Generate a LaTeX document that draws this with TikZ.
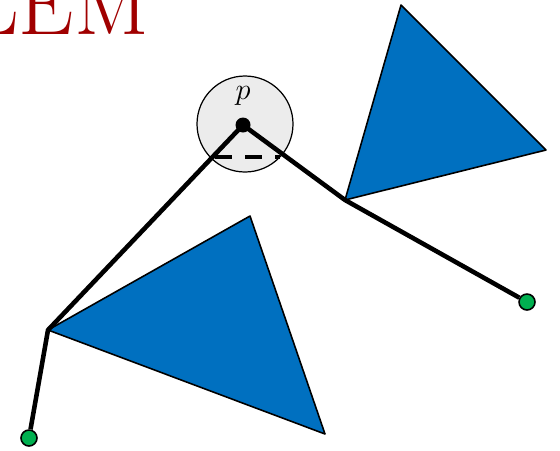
\documentclass[tikz,border=0pt]{standalone}
\usepackage{tikz}
\usetikzlibrary{calc}
\definecolor{triblue}{RGB}{0,112,192}
\definecolor{endgreen}{RGB}{0,176,80}
\definecolor{titlered}{RGB}{160,0,0}
\tikzset{tri/.style={draw=black,line width=0.9pt,fill=triblue,line join=round},
  arm/.style={line width=2.6pt,line join=round},
  enddot/.style={circle,draw=black,line width=0.9pt,fill=endgreen,inner sep=0pt,minimum size=16\px},
  jointdot/.style={circle,fill=black,inner sep=0pt,minimum size=15\px}}
\newlength{\px}\setlength{\px}{0.02cm}

\begin{document}
\begin{tikzpicture}[x=0.02cm,y=-0.02cm,line cap=butt]
\useasboundingbox (0,0) rectangle (560,450);
\clip (0,0) rectangle (560,450);
% --- title, cut off at the border
\node[anchor=base east,inner sep=0pt,text=titlered,font=\fontsize{50}{56}\selectfont] (title) at (149,34) {PROBLEM};
% --- joints
\coordinate (p) at (243,125);
\coordinate (l) at (48,330);
\coordinate (r) at (345,200);
% --- neighbourhood of p
\draw[line width=0.7pt,fill=gray!15] (245,124) circle (48);
\draw[line width=2.4pt,dash pattern=on 17\px off 13\px] (215,157) -- (280,157);
% --- obstacles
\draw[tri] (l) -- (250,216) -- (325,434) -- cycle;
\draw[tri] (r) -- (401,5) -- (546,150) -- cycle;
% --- arms
\node[enddot] (sl) at (29,438) {};
\node[enddot] (sr) at (527,302) {};
\draw[arm] (sl) -- (l) -- (p) -- (r) -- (sr);
\node[jointdot] (pdot) at (p) {};
\node[font=\fontsize{18}{20}\selectfont] (plabel) at (243,96) {$p$};
\end{tikzpicture}
\end{document}
